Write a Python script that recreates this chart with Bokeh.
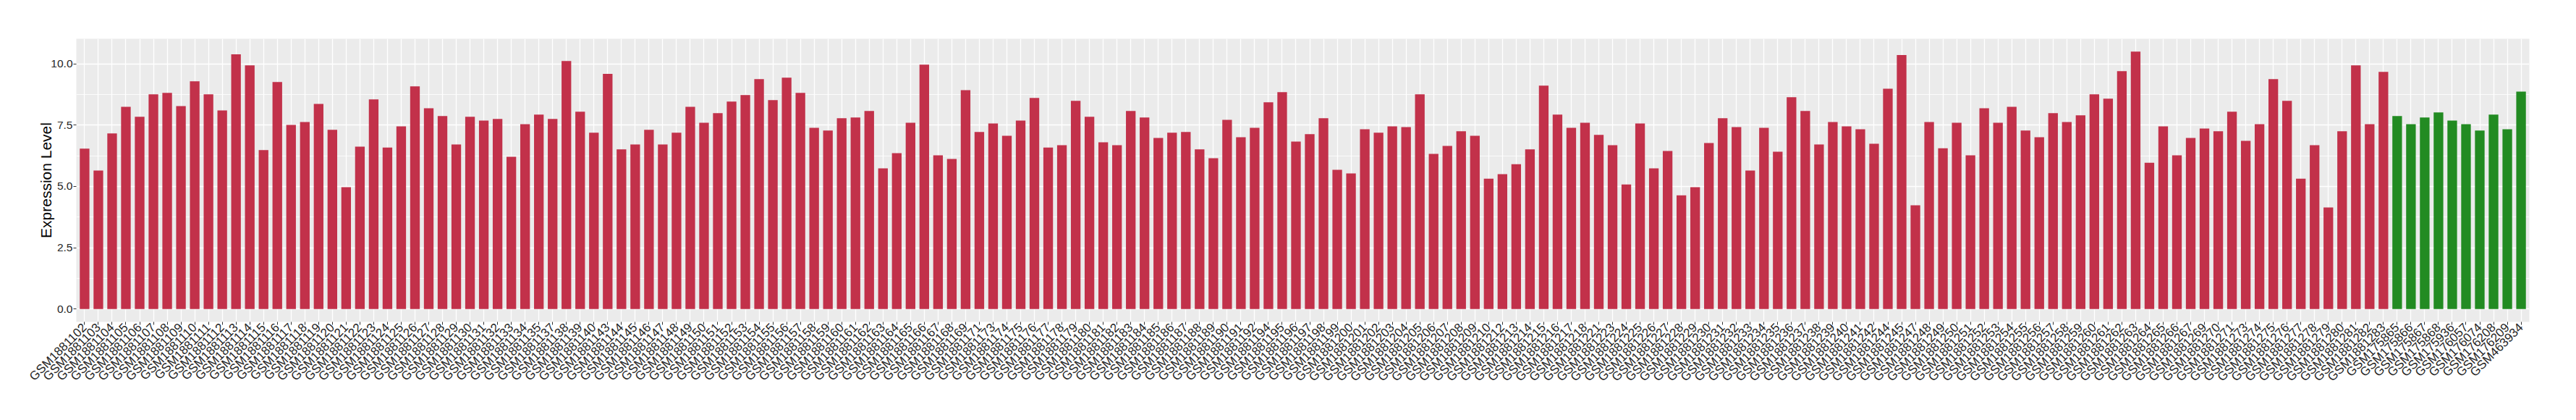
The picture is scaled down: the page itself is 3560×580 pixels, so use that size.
from bokeh.plotting import figure
from bokeh.models import FactorRange, Range1d, SingleIntervalTicker, PrintfTickFormatter, ColumnDataSource
from bokeh.embed import file_html
from bokeh.resources import INLINE
import math

tumor_samples = [
    "GSM1881102", "GSM1881103", "GSM1881104", "GSM1881105", "GSM1881106", "GSM1881107", "GSM1881108",
    "GSM1881109", "GSM1881110", "GSM1881111", "GSM1881112", "GSM1881113", "GSM1881114", "GSM1881115",
    "GSM1881116", "GSM1881117", "GSM1881118", "GSM1881119", "GSM1881120", "GSM1881121", "GSM1881122",
    "GSM1881123", "GSM1881124", "GSM1881125", "GSM1881126", "GSM1881127", "GSM1881128", "GSM1881129",
    "GSM1881130", "GSM1881131", "GSM1881132", "GSM1881133", "GSM1881134", "GSM1881135", "GSM1881137",
    "GSM1881138", "GSM1881139", "GSM1881140", "GSM1881143", "GSM1881144", "GSM1881145", "GSM1881146",
    "GSM1881147", "GSM1881148", "GSM1881149", "GSM1881150", "GSM1881151", "GSM1881152", "GSM1881153",
    "GSM1881154", "GSM1881155", "GSM1881156", "GSM1881157", "GSM1881158", "GSM1881159", "GSM1881160",
    "GSM1881161", "GSM1881162", "GSM1881163", "GSM1881164", "GSM1881165", "GSM1881166", "GSM1881167",
    "GSM1881168", "GSM1881169", "GSM1881171", "GSM1881173", "GSM1881174", "GSM1881175", "GSM1881176",
    "GSM1881177", "GSM1881178", "GSM1881179", "GSM1881180", "GSM1881181", "GSM1881182", "GSM1881183",
    "GSM1881184", "GSM1881185", "GSM1881186", "GSM1881187", "GSM1881188", "GSM1881189", "GSM1881190",
    "GSM1881191", "GSM1881192", "GSM1881194", "GSM1881195", "GSM1881196", "GSM1881197", "GSM1881198",
    "GSM1881199", "GSM1881200", "GSM1881201", "GSM1881202", "GSM1881203", "GSM1881204", "GSM1881205",
    "GSM1881206", "GSM1881207", "GSM1881208", "GSM1881209", "GSM1881210", "GSM1881212", "GSM1881213",
    "GSM1881214", "GSM1881215", "GSM1881216", "GSM1881217", "GSM1881218", "GSM1881221", "GSM1881223",
    "GSM1881224", "GSM1881225", "GSM1881226", "GSM1881227", "GSM1881228", "GSM1881229", "GSM1881230",
    "GSM1881231", "GSM1881232", "GSM1881233", "GSM1881234", "GSM1881235", "GSM1881236", "GSM1881237",
    "GSM1881238", "GSM1881239", "GSM1881240", "GSM1881241", "GSM1881242", "GSM1881244", "GSM1881245",
    "GSM1881247", "GSM1881248", "GSM1881249", "GSM1881250", "GSM1881251", "GSM1881252", "GSM1881253",
    "GSM1881254", "GSM1881255", "GSM1881256", "GSM1881257", "GSM1881258", "GSM1881259", "GSM1881260",
    "GSM1881261", "GSM1881262", "GSM1881263", "GSM1881264", "GSM1881265", "GSM1881266", "GSM1881267",
    "GSM1881269", "GSM1881270", "GSM1881271", "GSM1881273", "GSM1881274", "GSM1881275", "GSM1881276",
    "GSM1881277", "GSM1881278", "GSM1881279", "GSM1881280", "GSM1881281", "GSM1881282", "GSM1881283",
]

tumor_values = [
    6.54, 5.65, 7.16, 8.25, 7.84, 8.76, 8.82,
    8.28, 9.29, 8.76, 8.10, 10.39, 9.94, 6.48,
    9.26, 7.51, 7.63, 8.37, 7.31, 4.97, 6.62,
    8.55, 6.59, 7.45, 9.08, 8.19, 7.87, 6.71,
    7.84, 7.69, 7.75, 6.21, 7.54, 7.93, 7.75,
    10.12, 8.05, 7.19, 9.59, 6.51, 6.71, 7.31,
    6.71, 7.19, 8.25, 7.60, 7.99, 8.46, 8.73,
    9.38, 8.52, 9.44, 8.82, 7.39, 7.28, 7.78,
    7.81, 8.08, 5.74, 6.36, 7.60, 9.97, 6.27,
    6.12, 8.93, 7.22, 7.57, 7.07, 7.69, 8.61,
    6.59, 6.68, 8.49, 7.84, 6.80, 6.68, 8.08,
    7.81, 6.98, 7.19, 7.22, 6.51, 6.15, 7.72,
    7.01, 7.39, 8.43, 8.85, 6.83, 7.13, 7.78,
    5.68, 5.53, 7.33, 7.19, 7.45, 7.42, 8.76,
    6.33, 6.65, 7.25, 7.07, 5.32, 5.50, 5.91,
    6.51, 9.11, 7.93, 7.39, 7.60, 7.10, 6.68,
    5.08, 7.57, 5.74, 6.45, 4.64, 4.97, 6.77,
    7.78, 7.42, 5.65, 7.39, 6.42, 8.64, 8.08,
    6.71, 7.63, 7.45, 7.33, 6.74, 8.99, 10.36,
    4.23, 7.63, 6.56, 7.60, 6.27, 8.19, 7.60,
    8.25, 7.28, 7.01, 7.99, 7.63, 7.90, 8.76,
    8.58, 9.70, 10.50, 5.97, 7.45, 6.27, 6.98,
    7.36, 7.25, 8.05, 6.86, 7.54, 9.38, 8.49,
    5.32, 6.68, 4.14, 7.25, 9.94, 7.54, 9.67,
]

normal_samples = [
    "GSM175865", "GSM175866", "GSM175867", "GSM175868", "GSM175936",
    "GSM176057", "GSM176074", "GSM176208", "GSM176209", "GSM463934",
]
normal_values = [7.87, 7.54, 7.81, 8.02, 7.69, 7.54, 7.28, 7.93, 7.33, 8.87]

TUMOR_COLOR = "#C2314A"
NORMAL_COLOR = "#228B22"

samples = tumor_samples + normal_samples
values = tumor_values + normal_values
colors = [TUMOR_COLOR] * len(tumor_samples) + [NORMAL_COLOR] * len(normal_samples)

source = ColumnDataSource(data=dict(sample=samples, value=values, color=colors))

FONT = "Liberation Sans"

p = figure(
    width=3544, height=564,
    x_range=FactorRange(factors=samples, range_padding=0.1, range_padding_units="absolute"),
    y_range=Range1d(-0.525, 11.025),
    output_backend="svg", toolbar_location=None,
    min_border_left=105, min_border_right=49, min_border_top=53, min_border_bottom=120,
)

p.vbar(x="sample", top="value", width=0.7, color="color", line_color=None, source=source)

p.background_fill_color = "#EBEBEB"
p.border_fill_color = "white"
p.outline_line_color = None

# grids
p.xgrid.grid_line_color = "white"
p.xgrid.grid_line_width = 1.3
p.ygrid.grid_line_color = "white"
p.ygrid.grid_line_width = 1.6
p.ygrid.minor_grid_line_color = "white"
p.ygrid.minor_grid_line_width = 0.8

# y axis
p.yaxis.ticker = SingleIntervalTicker(interval=2.5, num_minor_ticks=2)
p.yaxis.formatter = PrintfTickFormatter(format="%.1f")
p.yaxis.axis_label = "Expression Level"
p.yaxis.axis_label_text_font = FONT
p.yaxis.axis_label_text_font_size = "21px"
p.yaxis.axis_label_text_font_style = "normal"
p.yaxis.axis_label_text_color = "black"
p.yaxis.axis_label_standoff = -8

for ax in (p.xaxis[0], p.yaxis[0]):
    ax.axis_line_color = None
    ax.major_tick_line_color = "#333333"
    ax.major_tick_line_width = 1
    ax.major_tick_out = 4
    ax.major_tick_in = 0
    ax.minor_tick_line_color = None
    ax.major_label_text_font = FONT
    ax.major_label_text_color = "#262626"
    ax.major_label_standoff = 1

p.yaxis.major_label_text_font_size = "15.5px"
p.xaxis.major_label_text_font_size = "17px"
p.xaxis.major_label_orientation = math.pi / 4
p.xaxis.group_text_font_size = "0px"

open("out.html", "w").write(file_html(p, INLINE))
